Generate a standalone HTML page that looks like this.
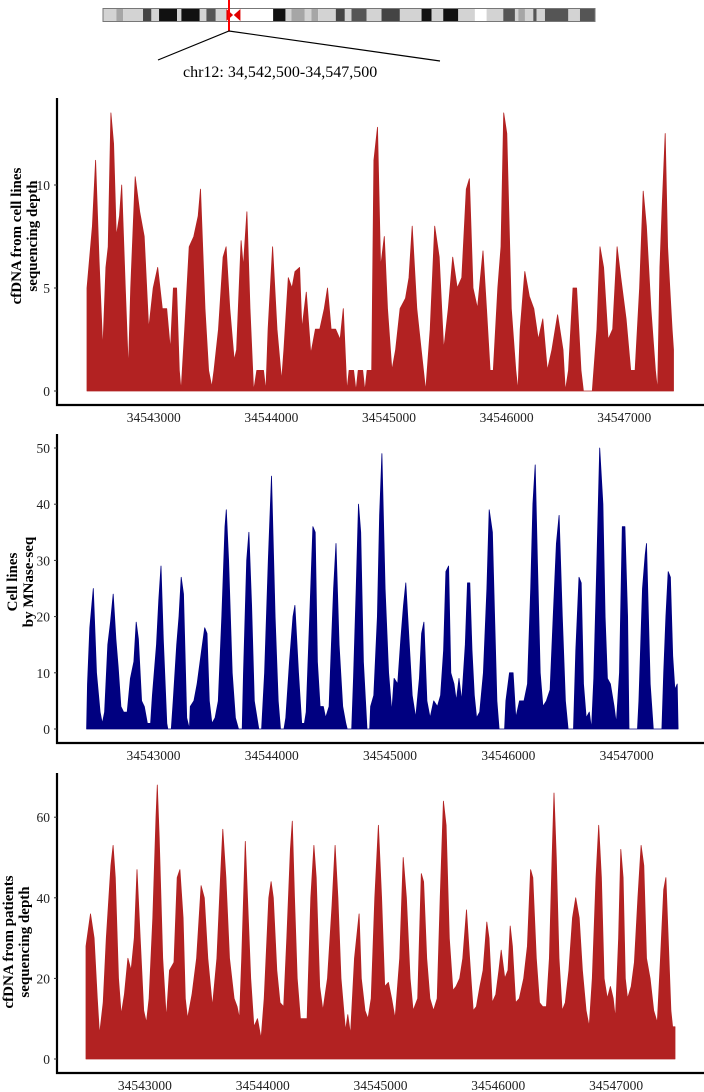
<!DOCTYPE html>
<html><head><meta charset="utf-8"><style>
html,body{margin:0;padding:0;background:#fff;}
svg{display:block;font-family:"Liberation Serif",serif;}
</style></head><body>
<svg id="chart" width="704" height="1092" viewBox="0 0 704 1092" xmlns="http://www.w3.org/2000/svg">
<g id="ideo"></g>
<text x="183" y="77" font-size="16">chr12: 34,542,500-34,547,500</text>
<g id="p1"></g>
<g id="p2"></g>
<g id="p3"></g>
</svg>
<script>
// ---- data ----
const xTicks = [34543000, 34544000, 34545000, 34546000, 34547000];
const xTickLabels = ["34543000", "34544000", "34545000", "34546000", "34547000"];

const cellStart = 34542500;
const cellPos = [0,0,46,73,103,134,161,180,203,226,249,276,295,326,352,372,410,448,486,525,563,601,640,678,709,735,762,785,800,831,869,908,946,965,1003,1034,1061,1080,1118,1157,1183,1214,1252,1272,1310,1329,1360,1386,1417,1444,1501,1521,1540,1578,1616,1655,1674,1712,1743,1769,1808,1827,1865,1903,1942,1980,2018,2045,2076,2114,2152,2179,2210,2229,2267,2287,2306,2344,2363,2382,2421,2440,2470,2497,2528,2555,2593,2624,2662,2708,2738,2765,2804,2842,2880,2918,2957,2995,3033,3072,3110,3148,3187,3225,3252,3282,3321,3367,3397,3428,3455,3493,3520,3543,3570,3608,3646,3665,3684,3723,3761,3799,3838,3876,3914,3953,4002,4048,4067,4094,4133,4163,4201,4221,4297,4336,4362,4393,4431,4470,4508,4539,4584,4623,4661,4699,4730,4757,4795,4833,4852,4872,4891,4917,4937,4956,4975,4987,4987];
const cellVal = [0,5,8,11.2,6.3,2,6,7,13.5,12,7.5,8.5,10,5,1,5,10.4,8.7,7.5,3,5,6,4,4,2,5,5,1,0,3,7,7.5,8.5,9.8,4,1,0.2,1,3,6.5,7,4,1.5,2,7.3,6,8.7,4,0,1,1,0,3,7,3,0.5,2,5.5,5,5.8,6,3,4.8,1.8,3,3,4,5,3,3,2.5,4,0,1,1,0,1,1,0,1,1,11.2,12.8,6,7.5,4,1,2,4,4.5,5.5,8,4,2,0,3,8,6.5,2,4,6.5,5,5.5,9.8,10.3,5,4,6.8,4,1,1,5,7,13.5,12.5,4,1,0,3,5.8,4.6,4,2.5,3.5,1,2,3.7,2,0,1,5,5,1,0,0,3,7,6,2.5,3,7,5.5,3.5,1,1,5,9.7,8,4,1,0,6,9,12.5,7,5,3,2,0];

const mnaseStart = 34542435;
const mnasePos = [0,8,27,57,84,114,133,152,179,202,225,248,267,290,313,343,370,400,419,438,465,488,514,541,556,591,610,629,648,678,686,716,732,762,781,800,819,846,869,877,907,934,972,998,1018,1037,1059,1086,1113,1143,1170,1181,1200,1231,1258,1284,1315,1326,1353,1372,1395,1418,1448,1456,1479,1505,1536,1563,1593,1620,1639,1669,1684,1715,1745,1761,1791,1818,1841,1856,1886,1913,1932,1951,1974,2001,2020,2050,2069,2088,2108,2134,2165,2191,2203,2241,2256,2279,2298,2317,2340,2370,2393,2401,2428,2458,2477,2496,2523,2553,2580,2599,2630,2656,2679,2698,2725,2752,2782,2813,2832,2851,2877,2904,2934,2965,2992,3018,3037,3060,3079,3106,3125,3148,3171,3201,3220,3239,3258,3277,3297,3323,3354,3384,3403,3430,3449,3468,3487,3533,3544,3575,3605,3628,3659,3697,3727,3754,3773,3792,3811,3834,3857,3887,3918,3944,3971,3994,4021,4047,4070,4116,4135,4162,4181,4200,4223,4249,4268,4287,4314,4337,4364,4383,4402,4428,4459,4478,4505,4528,4550,4573,4585,4657,4669,4699,4722,4733,4764,4790,4863,4878,4897,4916,4935,4954,4973,4992,5000];
const mnaseVal = [0,8,18,25,10,3,1,3,15,19,24,16,11,4,3,3,9,12,19,16,5,4,1,1,6,15,23,29,16,1,0,0,5,15,20,27,24,2,0,4,5,8,14,18,17,5,1,2,5,20,36,39,30,10,2,0,0,10,30,35,22,5,1,0,0,10,30,45,20,5,0,0,2,12,20,22,10,1,1,3,20,36,35,12,4,4,2,4,15,25,33,15,4,1,0,0,9,25,40,35,12,0,0,4,6,20,38,49,25,10,3,9,8,16,22,26,16,6,2,9,17,19,5,2,5,4,6,14,28,29,10,8,5,9,5,15,26,26,14,6,2,3,10,25,39,35,20,5,0,0,5,10,10,2,5,5,8,25,40,47,30,10,4,5,7,20,33,38,20,5,0,0,14,27,26,8,2,3,0,9,30,50,40,20,9,8,4,1,10,36,36,20,0,0,5,25,31,33,8,0,0,10,20,28,27,13,7,8,0];

const patStart = 34542500;
const patPos = [0,0,38,69,96,115,146,172,211,230,249,276,299,326,356,383,410,433,460,490,513,536,567,594,605,621,651,682,709,747,774,797,824,843,862,900,939,977,1004,1034,1073,1111,1142,1161,1188,1218,1257,1283,1303,1322,1352,1371,1398,1425,1456,1486,1513,1552,1571,1590,1620,1647,1678,1705,1735,1751,1770,1793,1820,1847,1877,1908,1935,1954,1984,2011,2050,2088,2115,2138,2165,2203,2222,2245,2279,2318,2337,2368,2394,2421,2452,2482,2509,2536,2567,2594,2624,2663,2693,2720,2751,2777,2816,2846,2866,2892,2919,2950,2981,3007,3034,3057,3084,3115,3141,3172,3199,3230,3256,3287,3314,3344,3371,3402,3421,3448,3479,3505,3525,3555,3582,3601,3620,3647,3678,3716,3747,3774,3793,3823,3850,3877,3908,3934,3957,3973,3992,4015,4042,4069,4099,4130,4157,4187,4214,4245,4272,4298,4329,4352,4375,4398,4425,4452,4475,4494,4521,4540,4559,4578,4597,4628,4655,4685,4712,4735,4758,4789,4819,4850,4877,4904,4923,4942,4965,4980,5000,5000];
const patVal = [0,28,36,30,15,6,14,30,48,53,45,20,11,16,25,22,30,47,30,12,9,15,35,60,68,55,25,10,22,24,45,47,35,15,10,16,25,43,40,25,13,25,45,57,45,25,15,13,10,25,54,40,20,8,10,5,15,40,44,40,22,14,13,30,52,59,40,20,10,10,10,40,53,45,18,12,20,38,53,40,20,7,11,6,25,36,20,12,10,15,40,58,40,18,19,15,10,25,50,40,20,12,15,46,44,25,15,12,15,40,64,58,30,17,18,20,25,37,25,12,13,18,22,34,30,14,16,22,27,20,22,33,28,14,15,20,28,47,45,25,14,13,13,25,50,66,50,25,12,14,22,35,40,35,22,12,8,20,45,58,45,20,15,18,15,10,30,52,45,20,15,18,24,40,53,48,25,20,12,9,25,42,45,30,12,8,8,0];

const yTicks1 = [0,5,10];
const yTicks2 = [0,10,20,30,40,50];
const yTicks3 = [0,20,40,60];

// ideogram bands in ideogram units (0..1475)
const bandStarts = [0,40,60,120,145,168,222,235,290,310,338,510,547,565,605,625,645,698,725,745,790,835,890,955,985,1020,1065,1115,1150,1200,1235,1245,1265,1290,1300,1325,1395,1430];
const bandEnds   = [40,60,120,145,168,222,235,290,310,338,370,547,565,605,625,645,698,725,745,790,835,890,955,985,1020,1065,1115,1150,1200,1235,1245,1265,1290,1300,1325,1395,1430,1475];
const bandColors = ["#d3d3d3","#a6a6a6","#d3d3d3","#444","#d3d3d3","#111","#d3d3d3","#111","#d3d3d3","#555","#d3d3d3","#111","#d3d3d3","#a6a6a6","#d3d3d3","#a6a6a6","#d3d3d3","#444","#d3d3d3","#555","#d3d3d3","#444","#d3d3d3","#111","#d3d3d3","#111","#d3d3d3","#fff","#d3d3d3","#555","#d3d3d3","#a6a6a6","#d3d3d3","#555","#d3d3d3","#555","#d3d3d3","#555","#d3d3d3"];

const NS = "http://www.w3.org/2000/svg";
function mk(tag, attrs, parent){ const e=document.createElementNS(NS,tag); for(const k in attrs) e.setAttribute(k,attrs[k]); parent.appendChild(e); return e; }

(function(){
  const g=document.getElementById('ideo');
  const ix = u => 103 + u*(492/1475);
  for(let i=0;i<bandStarts.length;i++){
    const r=mk('rect',{x:ix(bandStarts[i]),y:8.5,width:ix(bandEnds[i])-ix(bandStarts[i]),height:13,fill:bandColors[i]},g);
    
    
  }
  const o=mk('rect',{x:103,y:8.5,width:492,height:13,fill:'none',stroke:'#777','stroke-width':1},g);
  
  
  const c=mk('path',{d:`M${ix(370)} 9 L${ix(390)} 15 L${ix(370)} 21 Z M${ix(412)} 9 L${ix(392)} 15 L${ix(412)} 21 Z`,fill:'#e00000'},g);
  
  
  const m=mk('line',{x1:229,y1:0,x2:229,y2:31,stroke:'#ff0000','stroke-width':2},g);
  
  
  const z=mk('path',{d:'M158 60 L229 31 L440 61',fill:'none',stroke:'#000','stroke-width':1.2},g);
  
  
})();

function panel(id, cfg){
  const g=document.getElementById(id);
  const X = p => cfg.x0 + (p - cfg.xBase)*cfg.xs;
  const Y = v => cfg.y0 - v*cfg.ys;
  let d='';
  for(let i=0;i<cfg.pos.length;i++){
    d += (i?'L':'M') + X(cfg.start+cfg.pos[i]).toFixed(1)+' '+Y(cfg.val[i]).toFixed(1)+' ';
  }
  d+='Z';
  const a=mk('path',{d:d,fill:cfg.color,stroke:cfg.color,'stroke-width':0.8,'stroke-linejoin':'round'},g);
  
  
  const ax=mk('path',{d:`M57 ${cfg.top} L57 ${cfg.bottom} L704 ${cfg.bottom}`,fill:'none',stroke:'#000','stroke-width':2.2},g);
  
  
  cfg.yt.forEach(v=>{
    const t=mk('text',{x:50,y:Y(v)+5,'font-size':13.5,'text-anchor':'end',fill:'#222'},g);
    t.textContent=String(v);
    
    
    const tk=mk('line',{x1:54,x2:57,y1:Y(v),y2:Y(v),stroke:'#333','stroke-width':1},g);
    
    
  });
  xTicks.forEach((p,i)=>{
    const t=mk('text',{x:X(p)+cfg.lblOff,y:cfg.bottom+17,'font-size':13.5,'text-anchor':'middle',fill:'#222'},g);
    t.textContent=xTickLabels[i];
    
    
  });
  const tt=mk('text',{'font-size':15,'font-weight':'bold','text-anchor':'middle',transform:`translate(${cfg.tx},${cfg.ty}) rotate(-90)`},g);
  
  
  const s1=mk('tspan',{x:0,y:0},tt); s1.textContent=cfg.t1;
  const s2=mk('tspan',{x:0,y:16},tt); s2.textContent=cfg.t2;
}

panel('p1',{x0:87,xBase:34542500,xs:0.1176,y0:391,ys:20.6,top:98,bottom:405,pos:cellPos,val:cellVal,start:cellStart,color:'#b22222',yt:yTicks1,lblOff:8,tx:21,ty:236,t1:'cfDNA from cell lines',t2:'sequencing depth'});
panel('p2',{x0:86.6,xBase:34542435,xs:0.1183,y0:729,ys:5.62,top:434,bottom:743,pos:mnasePos,val:mnaseVal,start:mnaseStart,color:'#000080',yt:yTicks2,lblOff:0,tx:17,ty:582,t1:'Cell lines',t2:'by MNase-seq'});
panel('p3',{x0:86,xBase:34542500,xs:0.1178,y0:1059,ys:4.03,top:773,bottom:1073,pos:patPos,val:patVal,start:patStart,color:'#b22222',yt:yTicks3,lblOff:0,tx:13,ty:942,t1:'cfDNA from patients',t2:'sequencing depth'});
</script>
</body></html>
